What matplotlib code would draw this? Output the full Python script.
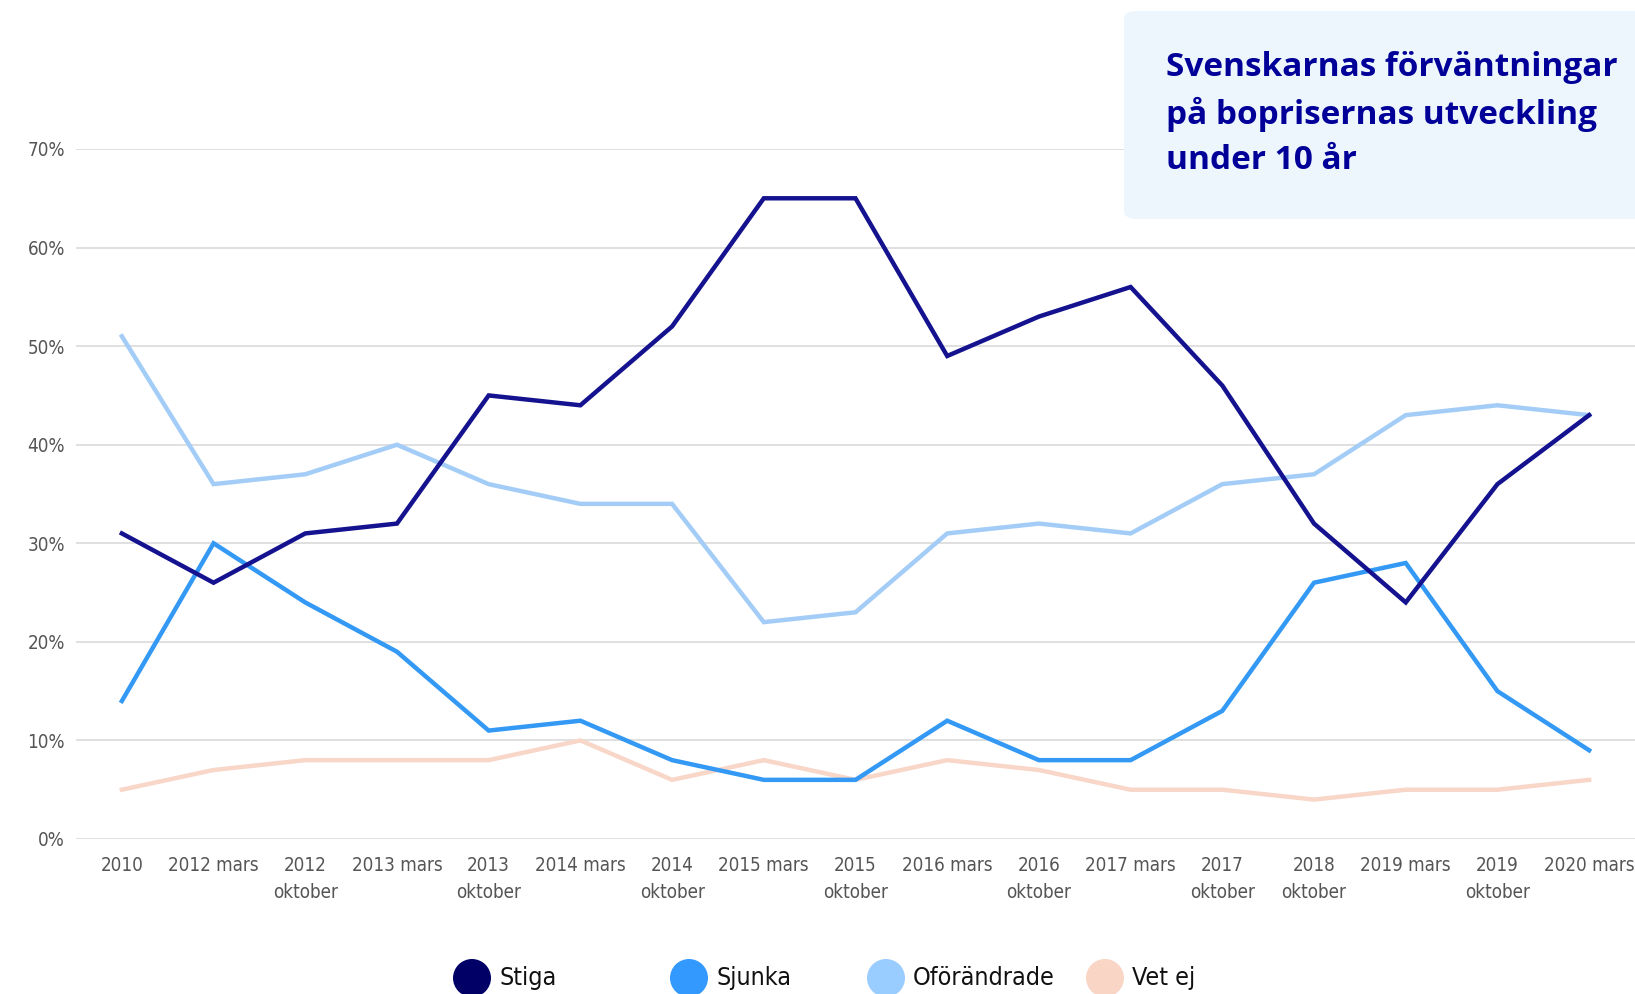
import matplotlib
matplotlib.use("Agg")
import matplotlib.pyplot as plt
from matplotlib import font_manager as fm
from matplotlib.patches import FancyBboxPatch, Ellipse

labels = ["2010", "2012 mars", "2012\noktober", "2013 mars", "2013\noktober",
          "2014 mars", "2014\noktober", "2015 mars", "2015\noktober", "2016 mars",
          "2016\noktober", "2017 mars", "2017\noktober", "2018\noktober",
          "2019 mars", "2019\noktober", "2020 mars"]

stiga = [31, 26, 31, 32, 45, 44, 52, 65, 65, 49, 53, 56, 46, 32, 24, 36, 43]
sjunka = [14, 30, 24, 19, 11, 12, 8, 6, 6, 12, 8, 8, 13, 26, 28, 15, 9]
oforandrade = [51, 36, 37, 40, 36, 34, 34, 22, 23, 31, 32, 31, 36, 37, 43, 44, 43]
vet_ej = [5, 7, 8, 8, 8, 10, 6, 8, 6, 8, 7, 5, 5, 4, 5, 5, 6]

series = [("Stiga", stiga, "#14128e", "#000066"),
          ("Sjunka", sjunka, "#3399f5", "#3399ff"),
          ("Oförändrade", oforandrade, "#a3cdf7", "#99ccff"),
          ("Vet ej", vet_ej, "#f8d6c8", "#f9d5c5")]


def find_font(tests, fallback):
    # pick the first installed font file matching one of the tests
    for test in tests:
        for f in fm.fontManager.ttflist:
            if test(f):
                return fm.FontProperties(fname=f.fname)
    return fallback


narrow = find_font([
    lambda f: f.name == "Liberation Sans Narrow" and f.weight in (400, "normal") and f.style == "normal",
    lambda f: "Condensed" in f.fname and "DejaVuSans" in f.fname and "Bold" not in f.fname
              and "Oblique" not in f.fname and "Mono" not in f.fname,
    lambda f: "Condensed" in f.fname and "Bold" not in f.fname and "Italic" not in f.fname,
], fm.FontProperties(family="Liberation Sans"))

heading = find_font([
    lambda f: f.name == "Noto Sans" and f.weight in (700, "bold") and f.style == "normal",
    lambda f: f.name == "Open Sans" and f.weight in (700, "bold") and f.style == "normal",
    lambda f: f.name == "Lato" and f.weight in (700, "bold") and f.style == "normal",
], fm.FontProperties(family="DejaVu Sans", weight="bold"))

W, H = 1635, 994
fig = plt.figure(figsize=(W / 100, H / 100), dpi=100)
ax = fig.add_axes([76 / W, 1 - 839 / H, 1 - 76 / W, (839 - 149) / H])

x = list(range(len(labels)))
# draw back to front so the dark line ends up on top
for name, vals, col, _ in reversed(series):
    ax.plot(x, vals, color=col, lw=3.2, solid_joinstyle="miter", zorder=3)

ax.set_xlim(-0.5, 16.5)
ax.set_ylim(0, 70)
ax.set_yticks(range(0, 71, 10))
ax.set_yticklabels([f"{v}%" for v in range(0, 71, 10)])
ax.set_xticks(x)
ax.set_xticklabels(labels, linespacing=1.55, va="top")
for t in ax.get_xticklabels() + ax.get_yticklabels():
    t.set_fontproperties(narrow)
    t.set_fontsize(13.5)
    t.set_color("#555555")
ax.tick_params(axis="both", length=0)
ax.tick_params(axis="y", pad=8)
ax.tick_params(axis="x", pad=12)
ax.grid(axis="y", color="#dddddd", lw=1.3, zorder=0)
for s in ax.spines.values():
    s.set_visible(False)

# title box in the top right corner
box = FancyBboxPatch((1124 / W, 1 - 219 / H), 0.4, (219 - 11) / H,
                     boxstyle="round,pad=0,rounding_size=0.008",
                     transform=fig.transFigure, facecolor="#eef6fd",
                     edgecolor="none", zorder=5)
fig.patches.append(box)
title = fig.text(1166 / W, 1 - 51 / H,
                 "Svenskarnas förväntningar\npå boprisernas utveckling\nunder 10 år",
                 fontproperties=heading, color="#000099",
                 va="top", ha="left", linespacing=1.48, zorder=6)
title.set_fontsize(24)

# legend along the bottom edge
leg_x = [472, 689, 886, 1105]
for (name, _, _, mcol), lx in zip(series, leg_x):
    dot = Ellipse((lx / W, 1 - 978 / H), 38 / W, 38 / H, transform=fig.transFigure,
                  facecolor=mcol, edgecolor="none")
    fig.patches.append(dot)
    lt = fig.text((lx + 27) / W, 1 - 978 / H, name, fontproperties=narrow,
                  color="#111111", va="center", ha="left")
    lt.set_fontsize(18)

fig.savefig("out.png", dpi=100, facecolor="white")
